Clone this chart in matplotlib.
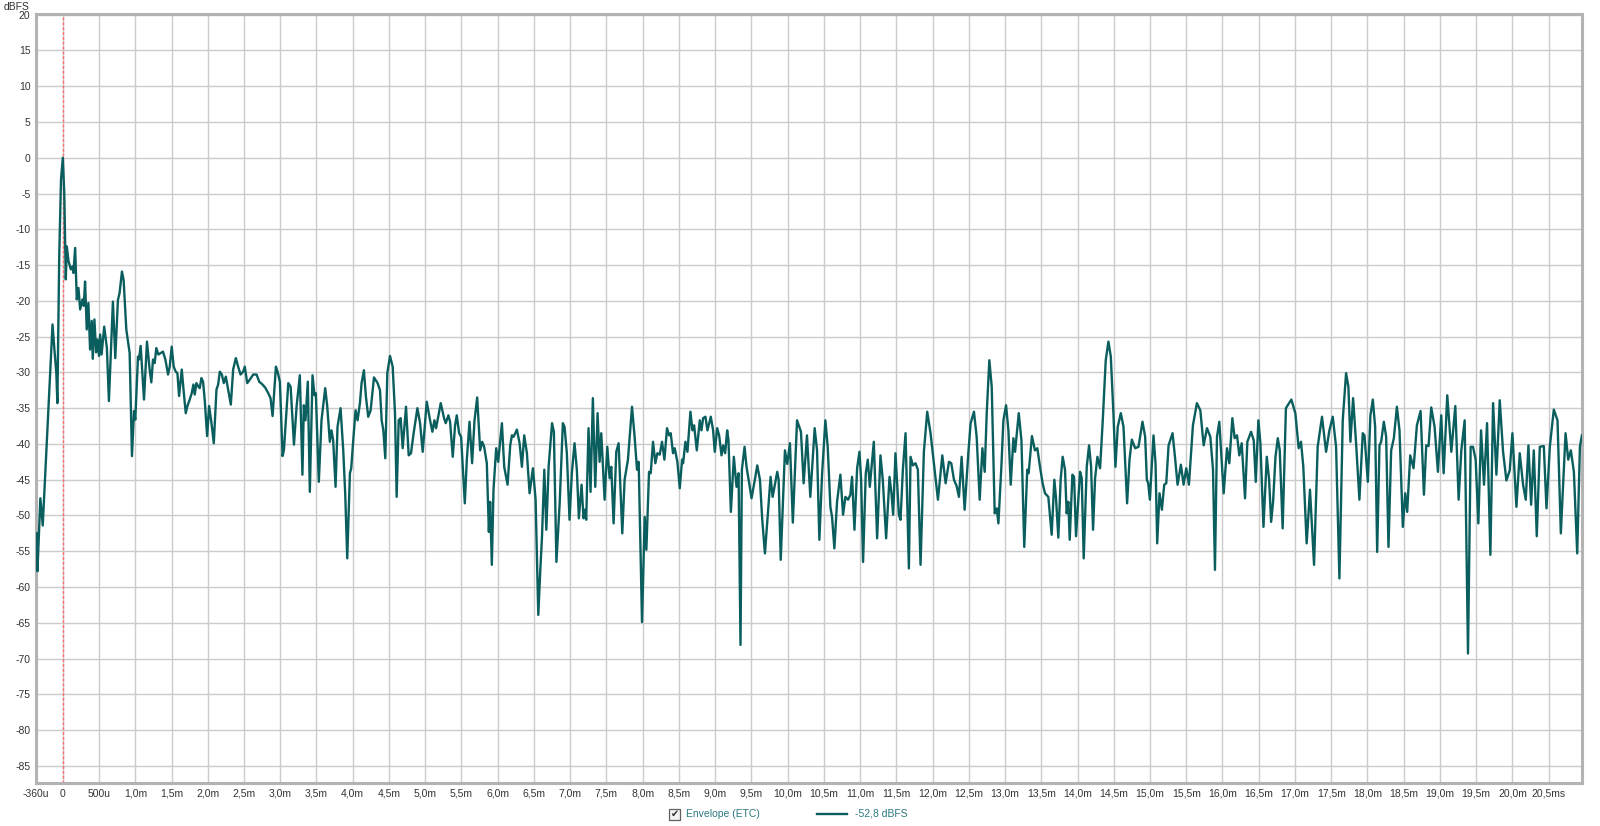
import matplotlib
matplotlib.use("Agg")
import matplotlib.pyplot as plt
from matplotlib.patches import Rectangle
from matplotlib.lines import Line2D

plt.rcParams['font.family'] = ['Liberation Sans', 'DejaVu Sans']

# time in ms, envelope level in dBFS
t_ms = [
    -0.36, -0.35, -0.31, -0.277, -0.142, -0.12, -0.09, -0.075, -0.05, -0.025, 0.0, 0.02, 0.032,
    0.041, 0.055, 0.078, 0.11, 0.133, 0.147, 0.17, 0.193, 0.216, 0.239, 0.271, 0.289, 0.307,
    0.33, 0.353, 0.376, 0.399, 0.413, 0.436, 0.459, 0.477, 0.5, 0.515, 0.535, 0.571, 0.608,
    0.636, 0.691, 0.724, 0.76, 0.783, 0.816, 0.839, 0.876, 0.922, 0.954, 0.982, 1.0, 1.037,
    1.051, 1.074, 1.097, 1.12, 1.161, 1.198, 1.221, 1.244, 1.267, 1.29, 1.318, 1.35, 1.382,
    1.415, 1.452, 1.475, 1.502, 1.53, 1.558, 1.581, 1.604, 1.641, 1.668, 1.696, 1.719, 1.751,
    1.779, 1.802, 1.82, 1.843, 1.871, 1.889, 1.912, 1.935, 1.959, 1.991, 2.018, 2.051, 2.083,
    2.12, 2.143, 2.166, 2.194, 2.221, 2.249, 2.281, 2.318, 2.35, 2.387, 2.419, 2.452, 2.488,
    2.511, 2.544, 2.581, 2.627, 2.673, 2.71, 2.756, 2.797, 2.834, 2.866, 2.894, 2.94, 2.963,
    2.995, 3.032, 3.051, 3.111, 3.143, 3.189, 3.226, 3.27, 3.306, 3.325, 3.348, 3.38, 3.408,
    3.445, 3.472, 3.491, 3.532, 3.569, 3.62, 3.647, 3.684, 3.707, 3.73, 3.763, 3.79, 3.832,
    3.869, 3.896, 3.924, 3.961, 3.979, 4.007, 4.039, 4.067, 4.099, 4.122, 4.154, 4.182, 4.214,
    4.247, 4.293, 4.343, 4.376, 4.399, 4.422, 4.449, 4.477, 4.514, 4.551, 4.583, 4.606, 4.634,
    4.661, 4.689, 4.735, 4.772, 4.804, 4.836, 4.892, 4.929, 4.965, 5.021, 5.067, 5.099, 5.127,
    5.15, 5.214, 5.26, 5.283, 5.32, 5.343, 5.38, 5.412, 5.435, 5.468, 5.495, 5.546, 5.574,
    5.611, 5.647, 5.68, 5.717, 5.758, 5.786, 5.813, 5.85, 5.878, 5.896, 5.919, 5.942, 5.979,
    6.007, 6.058, 6.09, 6.136, 6.173, 6.196, 6.219, 6.265, 6.302, 6.334, 6.366, 6.403, 6.44,
    6.486, 6.523, 6.56, 6.588, 6.611, 6.643, 6.671, 6.703, 6.75, 6.775, 6.81, 6.855, 6.899,
    6.922, 6.954, 6.991, 7.023, 7.06, 7.092, 7.12, 7.157, 7.184, 7.203, 7.221, 7.253, 7.281,
    7.313, 7.346, 7.378, 7.406, 7.429, 7.475, 7.512, 7.544, 7.567, 7.599, 7.636, 7.668, 7.719,
    7.751, 7.797, 7.853, 7.889, 7.922, 7.945, 7.991, 8.028, 8.051, 8.088, 8.111, 8.143, 8.175,
    8.203, 8.235, 8.267, 8.3, 8.336, 8.364, 8.387, 8.419, 8.442, 8.479, 8.512, 8.544, 8.558,
    8.59, 8.618, 8.659, 8.687, 8.71, 8.747, 8.788, 8.811, 8.834, 8.866, 8.894, 8.94, 8.972,
    8.995, 9.028, 9.055, 9.088, 9.111, 9.138, 9.166, 9.184, 9.217, 9.258, 9.295, 9.323, 9.35,
    9.369, 9.406, 9.433, 9.47, 9.502, 9.548, 9.581, 9.618, 9.65, 9.687, 9.724, 9.765, 9.793,
    9.857, 9.876, 9.905, 9.963, 9.995, 10.032, 10.072, 10.13, 10.184, 10.221, 10.267, 10.313,
    10.373, 10.406, 10.438, 10.475, 10.521, 10.553, 10.59, 10.613, 10.645, 10.682, 10.728,
    10.765, 10.797, 10.834, 10.866, 10.889, 10.922, 10.959, 10.991, 11.014, 11.041, 11.078,
    11.106, 11.134, 11.189, 11.235, 11.281, 11.313, 11.359, 11.406, 11.433, 11.456, 11.488,
    11.535, 11.558, 11.59, 11.627, 11.673, 11.696, 11.728, 11.765, 11.797, 11.834, 11.88,
    11.926, 11.972, 12.028, 12.074, 12.134, 12.18, 12.226, 12.258, 12.295, 12.332, 12.364,
    12.401, 12.442, 12.493, 12.525, 12.571, 12.608, 12.65, 12.687, 12.719, 12.747, 12.783,
    12.816, 12.857, 12.885, 12.908, 12.949, 12.977, 13.014, 13.046, 13.078, 13.115, 13.138,
    13.189, 13.226, 13.265, 13.306, 13.325, 13.371, 13.412, 13.445, 13.482, 13.518, 13.551,
    13.597, 13.643, 13.68, 13.703, 13.735, 13.767, 13.795, 13.827, 13.85, 13.873, 13.892,
    13.929, 13.952, 13.979, 14.035, 14.058, 14.085, 14.127, 14.159, 14.187, 14.214, 14.242,
    14.274, 14.311, 14.348, 14.389, 14.426, 14.459, 14.495, 14.523, 14.555, 14.597, 14.634,
    14.684, 14.717, 14.749, 14.795, 14.841, 14.896, 14.933, 14.956, 14.975, 14.998, 15.048,
    15.076, 15.099, 15.131, 15.164, 15.196, 15.224, 15.256, 15.311, 15.348, 15.38, 15.426,
    15.463, 15.5, 15.537, 15.592, 15.647, 15.694, 15.74, 15.786, 15.832, 15.869, 15.896,
    15.924, 15.956, 16.016, 16.062, 16.094, 16.136, 16.168, 16.2, 16.232, 16.265, 16.311,
    16.343, 16.394, 16.431, 16.459, 16.495, 16.523, 16.565, 16.611, 16.643, 16.671, 16.698,
    16.731, 16.763, 16.79, 16.83, 16.875, 16.95, 17.005, 17.051, 17.083, 17.115, 17.161,
    17.207, 17.263, 17.313, 17.373, 17.429, 17.475, 17.521, 17.567, 17.613, 17.659, 17.705,
    17.737, 17.765, 17.802, 17.843, 17.889, 17.935, 17.959, 18.005, 18.041, 18.074, 18.106,
    18.134, 18.166, 18.189, 18.226, 18.258, 18.29, 18.327, 18.364, 18.406, 18.442, 18.488,
    18.521, 18.548, 18.59, 18.636, 18.682, 18.733, 18.779, 18.811, 18.843, 18.88, 18.926,
    18.972, 19.018, 19.051, 19.101, 19.157, 19.212, 19.258, 19.295, 19.341, 19.387, 19.424,
    19.456, 19.493, 19.53, 19.567, 19.608, 19.65, 19.696, 19.733, 19.779, 19.825, 19.871,
    19.917, 19.963, 20.0, 20.055, 20.101, 20.147, 20.184, 20.221, 20.258, 20.295, 20.336,
    20.378, 20.433, 20.47, 20.516, 20.571, 20.622, 20.668, 20.733, 20.77, 20.806, 20.848,
    20.894, 20.931, 20.959,
]
level_db = [
    -52.5, -57.8, -47.6, -51.4, -23.3, -26.3, -30.0, -34.3, -14.0, -3.0, 0.0, -5.0, -11.5,
    -17.0, -12.4, -14.4, -15.6, -15.2, -16.1, -12.6, -19.8, -18.2, -21.2, -19.8, -20.7, -17.3,
    -24.0, -20.3, -26.8, -22.8, -28.1, -22.6, -27.2, -25.4, -27.7, -24.7, -27.5, -23.6, -26.6,
    -34.0, -20.1, -28.0, -19.9, -18.9, -15.9, -17.1, -24.0, -27.3, -41.7, -35.4, -36.6, -27.8,
    -28.2, -26.3, -30.1, -33.8, -25.7, -29.6, -31.4, -28.2, -28.7, -26.6, -27.5, -27.3, -27.1,
    -28.2, -30.3, -29.2, -26.4, -29.2, -29.9, -30.1, -33.3, -29.6, -32.7, -35.7, -34.7, -33.8,
    -32.9, -31.7, -33.1, -31.5, -32.0, -32.2, -30.8, -31.3, -34.0, -38.9, -34.7, -37.1, -39.9,
    -32.4, -31.7, -29.9, -30.3, -31.5, -30.6, -32.4, -34.5, -29.6, -28.0, -29.2, -30.3, -29.9,
    -29.2, -31.5, -31.0, -30.3, -30.3, -31.3, -31.7, -32.2, -32.9, -33.6, -36.1, -29.2, -29.9,
    -31.3, -41.7, -40.8, -31.5, -32.0, -40.1, -34.7, -30.4, -44.3, -34.6, -36.7, -31.3, -46.7,
    -30.4, -33.2, -32.9, -45.3, -36.7, -32.2, -34.6, -39.7, -38.1, -39.5, -46.0, -37.6, -35.0,
    -40.9, -46.9, -56.0, -44.1, -43.4, -39.5, -35.3, -36.7, -34.3, -31.5, -29.7, -33.4, -36.2,
    -35.3, -30.7, -31.5, -32.5, -36.7, -38.1, -42.0, -30.1, -27.7, -29.2, -35.7, -47.4, -36.7,
    -36.4, -40.6, -34.8, -41.6, -41.3, -38.8, -35.0, -37.1, -41.1, -34.1, -36.7, -38.3, -36.7,
    -37.8, -34.3, -36.4, -37.1, -36.0, -36.9, -41.8, -37.4, -36.0, -38.5, -39.0, -48.3, -42.2,
    -36.9, -42.7, -36.7, -33.5, -40.9, -39.7, -40.4, -42.7, -52.3, -48.1, -56.9, -46.4, -40.6,
    -42.5, -37.1, -43.2, -45.7, -40.2, -38.8, -39.0, -38.0, -39.9, -43.2, -38.8, -41.3, -46.9,
    -43.4, -47.8, -63.9, -57.6, -53.0, -43.6, -52.0, -43.1, -37.1, -38.3, -56.5, -48.3, -37.1,
    -37.6, -41.3, -50.6, -44.1, -39.9, -43.6, -50.4, -45.7, -50.4, -49.2, -50.6, -37.8, -46.7,
    -33.6, -46.0, -35.7, -42.5, -38.5, -47.8, -40.4, -44.8, -43.2, -51.1, -41.1, -39.9, -52.5,
    -45.0, -42.2, -34.8, -39.0, -43.6, -42.5, -64.9, -50.2, -54.8, -43.9, -44.1, -39.7, -42.7,
    -41.3, -41.5, -39.7, -42.2, -37.8, -38.8, -38.5, -41.3, -40.6, -42.5, -46.2, -42.2, -42.7,
    -39.7, -41.1, -35.5, -38.1, -37.4, -40.9, -36.7, -38.1, -36.4, -36.2, -38.1, -36.2, -38.1,
    -41.1, -37.8, -38.8, -41.6, -40.2, -41.3, -38.1, -39.5, -49.5, -41.8, -46.0, -44.1, -68.1,
    -43.6, -40.4, -43.2, -45.5, -47.6, -45.0, -43.0, -45.0, -50.6, -55.3, -50.2, -44.6, -47.4,
    -43.9, -45.0, -56.2, -40.9, -42.8, -39.9, -51.0, -36.7, -38.3, -45.5, -38.8, -47.4,
    -37.8, -40.9, -53.4, -44.3, -36.7, -40.4, -48.8, -50.2, -54.6, -48.1, -44.3,
    -49.9, -47.4, -47.8, -47.1, -44.6, -52.0, -43.4, -41.1, -45.0, -56.5, -44.1,
    -42.2, -46.0, -39.7, -53.2, -41.6, -45.0, -53.2, -44.6, -46.9, -49.9, -41.3,
    -49.9, -50.6, -43.6, -38.5, -57.4, -41.8, -43.0, -42.7, -43.6, -56.9, -41.1,
    -35.5, -38.5, -43.6, -47.8, -41.6, -45.5, -42.5, -42.7, -45.0, -45.9, -47.4,
    -41.8, -49.2, -41.3, -37.1, -35.5, -39.0, -47.8, -40.6, -43.9, -35.7, -28.3,
    -32.0, -49.7, -49.0, -51.1, -43.2, -36.7, -34.6, -38.1, -45.7, -39.2, -41.1,
    -35.7, -39.5, -54.4, -43.6, -44.1, -38.9, -40.9, -40.6, -43.2, -45.5, -46.9,
    -47.4, -52.7, -45.0, -47.6, -53.1, -45.0, -41.8, -43.6, -49.7, -48.1, -53.4,
    -44.3, -44.6, -52.9, -43.9, -44.8, -56.0, -43.2, -40.2, -43.2, -52.0, -44.8,
    -41.8, -43.4, -36.7, -28.3, -25.7, -27.8, -35.7, -43.2, -37.6, -35.7, -37.6,
    -48.3, -42.2, -39.4, -40.6, -40.4, -36.9, -39.0, -45.0, -45.5, -47.8, -38.8,
    -42.7, -53.9, -46.9, -49.2, -45.7, -45.5, -40.2, -38.5, -42.2, -45.7, -42.9,
    -45.7, -43.4, -45.7, -37.4, -34.3, -35.3, -40.2, -37.8, -39.0, -43.6, -57.6,
    -39.0, -36.9, -46.9, -40.6, -42.7, -36.4, -39.2, -38.8, -41.6, -39.9, -47.6,
    -39.7, -38.3, -39.5, -45.3, -36.7, -39.9, -51.6, -41.8, -45.0, -50.9, -48.1,
    -41.8, -39.2, -40.9, -51.8, -35.0, -33.8, -35.7, -40.6, -39.7, -43.2, -53.9,
    -46.4, -56.9, -40.4, -36.2, -41.1, -38.1, -36.2, -40.4, -58.8, -36.7, -30.1,
    -32.0, -39.7, -33.6, -39.9, -47.8, -38.5, -38.8, -45.3, -36.0, -33.8, -37.6,
    -55.1, -40.2, -39.7, -36.9, -39.0, -54.4, -40.9, -39.2, -34.8, -38.1, -51.6,
    -46.9, -49.5, -41.6, -43.4, -37.4, -35.4, -47.1, -40.2, -40.3, -34.9, -37.6,
    -43.9, -36.0, -44.1, -33.2, -41.1, -34.7, -47.8, -40.9, -36.7, -69.3, -40.4,
    -40.4, -42.2, -51.1, -38.1, -45.7, -37.1, -55.5, -34.3, -44.3, -33.9, -41.1,
    -45.1, -43.7, -38.5, -48.8, -41.3, -45.7, -47.8, -40.2, -48.5, -40.9, -52.9,
    -40.4, -40.3, -49.0, -40.4, -35.2, -36.7, -52.5, -38.5, -42.2, -40.9, -43.9,
    -55.3, -40.4, -38.8,
]

x_tick_pos = [-0.37, 0.0, 0.5, 1.0, 1.5, 2.0, 2.5, 3.0, 3.5, 4.0, 4.5, 5.0, 5.5, 6.0, 6.5, 7.0,
              7.5, 8.0, 8.5, 9.0, 9.5, 10.0, 10.5, 11.0, 11.5, 12.0, 12.5, 13.0, 13.5, 14.0,
              14.5, 15.0, 15.5, 16.0, 16.5, 17.0, 17.5, 18.0, 18.5, 19.0, 19.5, 20.0, 20.5]
x_tick_labels = ['-360u', '0', '500u', '1,0m', '1,5m', '2,0m', '2,5m', '3,0m', '3,5m', '4,0m',
                 '4,5m', '5,0m', '5,5m', '6,0m', '6,5m', '7,0m', '7,5m', '8,0m', '8,5m', '9,0m',
                 '9,5m', '10,0m', '10,5m', '11,0m', '11,5m', '12,0m', '12,5m', '13,0m', '13,5m',
                 '14,0m', '14,5m', '15,0m', '15,5m', '16,0m', '16,5m', '17,0m', '17,5m', '18,0m',
                 '18,5m', '19,0m', '19,5m', '20,0m', '20,5ms']
y_ticks = [20, 15, 10, 5, 0, -5, -10, -15, -20, -25, -30, -35, -40, -45, -50, -55, -60, -65,
           -70, -75, -80, -85]

line_col = '#0b5e5e'
grid_col = '#cbcbcb'
text_col = '#333333'

W, H = 1600, 826
fig = plt.figure(figsize=(W / 100, H / 100), dpi=100)
fig.patch.set_facecolor('white')
ax = fig.add_axes([36 / W, 1 - 783 / H, (1582 - 36) / W, (783 - 14) / H])

# grid every 0.5 ms / 5 dB
for x in x_tick_pos[1:]:
    ax.axvline(x, color=grid_col, lw=1, zorder=0)
for y in y_ticks:
    ax.axhline(y, color=grid_col, lw=1, zorder=0)

ax.axvline(0, color='#ff6a6a', lw=1, ls=(0, (2, 1.5)), zorder=1)
ax.plot(t_ms, level_db, color=line_col, lw=1.7, zorder=3, solid_joinstyle='round')

ax.set_xlim(-0.37, 20.96)
ax.set_ylim(-87.4, 20.1)
ax.set_xticks(x_tick_pos)
ax.set_xticklabels(x_tick_labels)
ax.set_yticks(y_ticks)
ax.set_yticklabels([str(v) for v in y_ticks])
ax.tick_params(length=0, labelsize=7.5, labelcolor=text_col, pad=4)
for s in ax.spines.values():
    s.set_color('#b3b3b3')
    s.set_linewidth(2.2)

fig.text(16.5 / W, 1 - 6.5 / H, 'dBFS', fontsize=7.5, color=text_col, ha='center', va='center')

# legend strip under the plot
ly = 1 - 814 / H
fig.patches.append(Rectangle((669 / W, 1 - 820 / H), 11 / W, 11 / H, transform=fig.transFigure,
                             facecolor='#f2f2f2', edgecolor='#606060', lw=0.9))
fig.text(674.5 / W, ly, '\u2714', fontsize=7, color='#303030', ha='center', va='center',
         family='DejaVu Sans')
fig.text(686 / W, ly, 'Envelope (ETC)', fontsize=7.5, color='#2a7880', ha='left', va='center')
fig.lines.append(Line2D([817 / W, 847 / W], [ly, ly], transform=fig.transFigure,
                        color=line_col, lw=1.7))
fig.text(855 / W, ly, '-52,8 dBFS', fontsize=7.5, color='#2a7880', ha='left', va='center')

fig.savefig('out.png', dpi=100)
